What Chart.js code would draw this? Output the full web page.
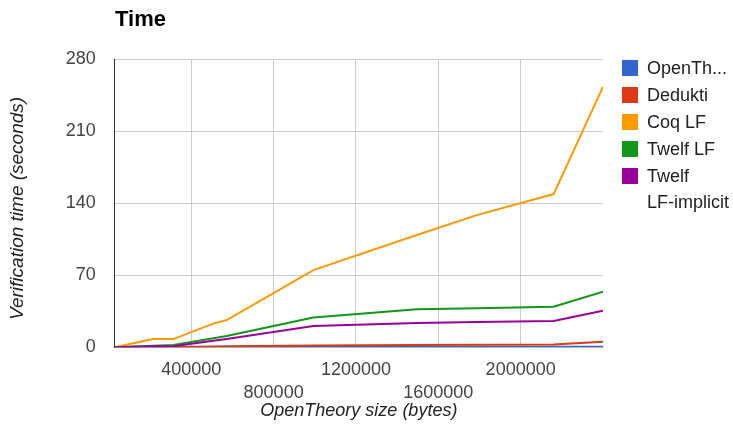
<!DOCTYPE html>
<html>
<head>
<meta charset="utf-8">
<script src="https://cdn.jsdelivr.net/npm/chart.js@4"></script>
<style>
  body { margin: 0; background: #fff; }
  #wrap { position: relative; width: 733px; height: 429px; font-family: "Liberation Sans", Arial, sans-serif; }
  #chartTitle { position: absolute; left: 115px; top: 8px; font-size: 22px; line-height: 22px; font-weight: bold; color: #000; }
  #legend { position: absolute; left: 622px; top: 59px; }
  .item { position: relative; height: 27px; }
  .box { position: absolute; left: 0; top: 1px; width: 16px; height: 16px; }
  .txt { position: absolute; left: 25px; top: -4px; font-size: 18px; line-height: 26px; color: #222; white-space: nowrap; }
</style>
</head>
<body>
<div id="wrap">
  <canvas id="timeChart" width="733" height="429"></canvas>
  <div id="chartTitle">Time</div>
  <div id="legend"></div>
</div>
<script>
// tamanhos OpenTheory (bytes) e tempos de verificação (s)
const sizes = [28000, 215000, 313000, 507000, 572000, 993000, 1496000, 1787000, 2160000, 2400000];
const openTheory = [0, 0.1, 0.1, 0.2, 0.2, 0.3, 0.4, 0.5, 0.5, 0.6];
const dedukti = [0, 0.3, 0.4, 0.8, 0.9, 1.8, 2.2, 2.4, 2.6, 5.4];
const coqLF = [0, 8, 8, 23, 26.5, 75, 109, 128.4, 148.8, 253];
const twelfLF = [0, 1.5, 2.2, 8.8, 11, 29, 37, 38, 39.4, 54];
const twelfImplicit = [0, 1, 1, 6.3, 8, 20.7, 23.5, 24.5, 25.5, 35.5];

const seriesNames = ['OpenTh...', 'Dedukti', 'Coq LF', 'Twelf LF', 'Twelf LF-implicit'];
const legendLines = [['OpenTh...'], ['Dedukti'], ['Coq LF'], ['Twelf LF'], ['Twelf', 'LF-implicit']];
const seriesValues = [openTheory, dedukti, coqLF, twelfLF, twelfImplicit];
const colors = ['#3366cc', '#dc3912', '#ff9900', '#109618', '#990099'];

const xTicks = [400000, 800000, 1200000, 1600000, 2000000];
const yTicks = [0, 70, 140, 210, 280];

const font = '"Liberation Sans", Arial, sans-serif';

const datasets = seriesValues.map((vals, i) => ({
    label: seriesNames[i],
    data: vals.map((v, k) => ({ x: sizes[k], y: v })),
    borderColor: colors[i],
    backgroundColor: colors[i],
    borderWidth: 2,
    pointRadius: 0,
    tension: 0,
    order: seriesValues.length - i
}));

// legenda em HTML (quebra "Twelf LF-implicit" em duas linhas como no original)
const legend = document.getElementById('legend');
legendLines.forEach((lines, i) => {
    legend.insertAdjacentHTML('beforeend', `
        <div class="item">
            <div class="box" style="background:${colors[i]}"></div>
            <div class="txt">${lines.join('<br>')}</div>
        </div>`);
});

new Chart(document.getElementById('timeChart'), {
    type: 'line',
    data: { datasets },
    options: {
        responsive: false,
        animation: false,
        layout: { padding: { left: 0, right: 130, top: 59, bottom: 0 } },
        plugins: { legend: { display: false }, tooltip: { enabled: false } },
        scales: {
            x: {
                type: 'linear',
                min: 28000,
                max: 2400000,
                afterBuildTicks: s => { s.ticks = xTicks.map(v => ({ value: v })); },
                afterFit: s => { s.height = 81.7; },
                grid: { color: '#cccccc', drawTicks: false },
                border: { color: '#cccccc' },
                ticks: {
                    autoSkip: false,
                    maxRotation: 0,
                    padding: 12,
                    color: '#444',
                    font: { family: font, size: 18, lineHeight: 1.24 },
                    callback: (v, idx) => idx % 2 === 0 ? String(v) : ['', String(v)]
                },
                title: {
                    display: true,
                    text: 'OpenTheory size (bytes)',
                    color: '#222',
                    padding: { top: 0, bottom: 7 },
                    font: { family: font, size: 18, style: 'italic' }
                }
            },
            y: {
                min: 0,
                max: 280,
                afterBuildTicks: s => { s.ticks = yTicks.map(v => ({ value: v })); },
                afterFit: s => { s.width = 114.7; },
                grid: { color: '#cccccc', drawTicks: false },
                border: { color: '#333333' },
                ticks: {
                    padding: 19,
                    color: '#444',
                    font: { family: font, size: 18 }
                },
                title: {
                    display: true,
                    text: 'Verification time (seconds)  ',
                    color: '#222',
                    padding: { top: 6, bottom: 0 },
                    font: { family: font, size: 19, style: 'italic' }
                }
            }
        }
    }
});
</script>
</body>
</html>
